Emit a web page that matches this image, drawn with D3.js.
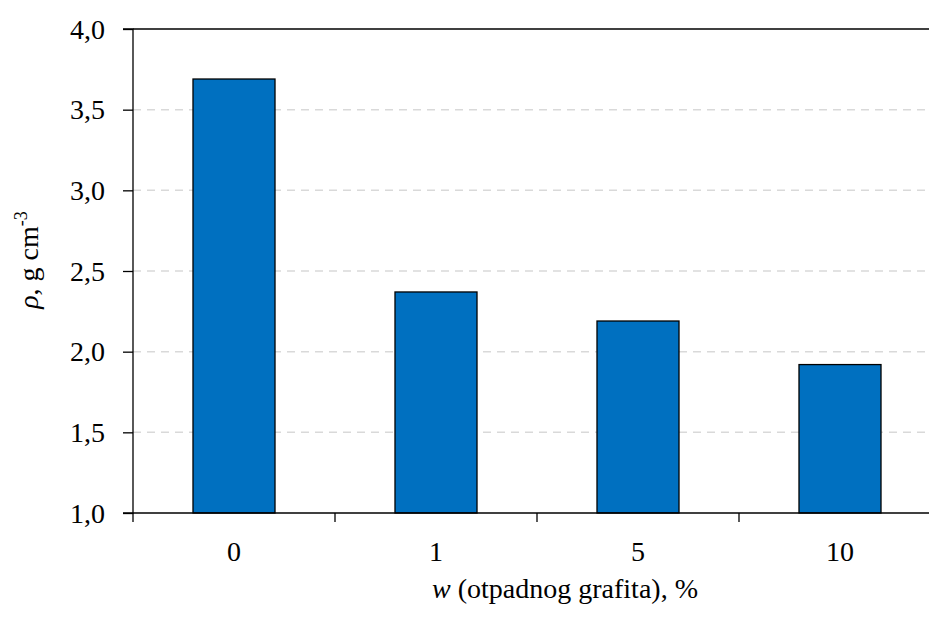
<!DOCTYPE html>
<html>
<head>
<meta charset="utf-8">
<script src="https://cdn.jsdelivr.net/npm/d3@7"></script>
</head>
<body style="margin:0">
<svg id="chart" width="929" height="617"></svg>
<script>
const categories = ["0", "1", "5", "10"];
const density = [3.69, 2.37, 2.19, 1.92];
const yTicks = [1.0, 1.5, 2.0, 2.5, 3.0, 3.5, 4.0];

const margin = {left: 133, top: 29, right: -12, bottom: 104};
const width = 929, height = 617;
const serif = "Tinos";
const fontSize = 28;

const svg = d3.select("#chart");

const x = d3.scaleBand()
  .domain(categories)
  .range([margin.left, width - margin.right])
  .paddingInner(0.594)
  .paddingOuter(0.297);

const y = d3.scaleLinear()
  .domain([1, 4])
  .range([height - margin.bottom, margin.top]);

// dashed grid lines
svg.append("g")
  .selectAll("line")
  .data(yTicks.filter(d => d > 1 && d < 4))
  .join("line")
  .attr("x1", margin.left)
  .attr("x2", width)
  .attr("y1", d => y(d))
  .attr("y2", d => y(d))
  .attr("stroke", "#d9d9d9")
  .attr("stroke-width", 1.5)
  .attr("stroke-dasharray", "8,6");

// top border
svg.append("line")
  .attr("x1", margin.left)
  .attr("x2", width)
  .attr("y1", y(4))
  .attr("y2", y(4))
  .attr("stroke", "#000")
  .attr("stroke-width", 1.3);

// bars
svg.append("g")
  .selectAll("rect")
  .data(density)
  .join("rect")
  .attr("x", (d, i) => x(categories[i]))
  .attr("y", d => y(d))
  .attr("width", x.bandwidth())
  .attr("height", d => y(1) - y(d))
  .attr("fill", "#0070c0")
  .attr("stroke", "#000")
  .attr("stroke-width", 1.3);

// y axis (tick marks only, labels drawn below)
const yAxis = svg.append("g")
  .attr("transform", `translate(${margin.left},0)`)
  .call(d3.axisLeft(y).tickValues(yTicks).tickSize(10).tickFormat(""));
yAxis.select(".domain").attr("stroke-width", 1.3).attr("d", `M-10,${y(4)}H0V${y(1)}H-10`);
yAxis.selectAll(".tick line").attr("stroke-width", 1.3);

svg.append("g")
  .selectAll("text")
  .data(yTicks)
  .join("text")
  .attr("x", margin.left - 28)
  .attr("y", d => y(d))
  .attr("dy", "0.34em")
  .attr("text-anchor", "end")
  .attr("font-family", () => serif)
  .attr("font-size", fontSize)
  .text(d => d3.format(".1f")(d).replace(".", ","));

// x axis: ticks between categories
const step = x.step();
const xAxisG = svg.append("g")
  .attr("transform", `translate(0,${y(1)})`);
xAxisG.append("line")
  .attr("x1", margin.left)
  .attr("x2", width)
  .attr("stroke", "#000")
  .attr("stroke-width", 1.3);
xAxisG.selectAll(".xt")
  .data(categories)
  .join("line")
  .attr("class", "xt")
  .attr("x1", c => x(c) + x.bandwidth() / 2 - step / 2)
  .attr("x2", c => x(c) + x.bandwidth() / 2 - step / 2)
  .attr("y1", 0)
  .attr("y2", 9)
  .attr("stroke", "#000")
  .attr("stroke-width", 1.3);
xAxisG.selectAll(".xl")
  .data(categories)
  .join("text")
  .attr("class", "xl")
  .attr("x", c => x(c) + x.bandwidth() / 2)
  .attr("y", 48)
  .attr("text-anchor", "middle")
  .attr("font-family", () => serif)
  .attr("font-size", fontSize)
  .text(c => c);

// x title
const xt = svg.append("text")
  .attr("x", 565)
  .attr("y", 598)
  .attr("text-anchor", "middle")
  .attr("font-family", serif)
  .attr("font-size", fontSize);
xt.append("tspan").attr("font-style", "italic").text("w");
xt.append("tspan").text(" (otpadnog grafita), %");

// y title
const yt = svg.append("text")
  .attr("transform", `translate(38,${(y(1) + y(4)) / 2 - 11}) rotate(-90)`)
  .attr("text-anchor", "middle")
  .attr("font-family", serif)
  .attr("font-size", fontSize);
yt.append("tspan").attr("font-style", "italic").text("ρ");
yt.append("tspan").text(", g cm");
yt.append("tspan").attr("font-size", 18).attr("dy", -11).text("-3");
</script>
</body>
</html>
